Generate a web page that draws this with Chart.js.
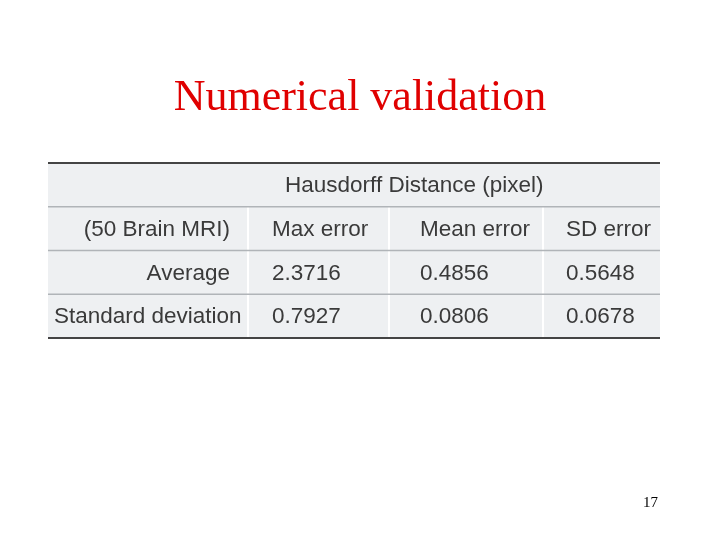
<!DOCTYPE html>
<html><head><meta charset="utf-8">
<script src="https://cdn.jsdelivr.net/npm/chart.js@4/dist/chart.umd.min.js"></script>
<style>
html,body{margin:0;padding:0;background:#fff;width:720px;height:540px;overflow:hidden}
#t{position:absolute;top:70px;left:0;width:720px;text-align:center;font-family:"Liberation Serif",serif;font-size:44px;color:#e00000}
#p{position:absolute;top:494px;left:643px;font-family:"Liberation Serif",serif;font-size:15px;color:#000}
#w{position:absolute;left:0;top:0;width:720px;height:540px}
</style></head><body>
<div id="w"><canvas id="c" width="720" height="540"></canvas></div>
<div id="t">Numerical validation</div>
<div id="p">17</div>
<script>
const header = "Hausdorff Distance (pixel)";
const columns = ["(50 Brain MRI)", "Max error", "Mean error", "SD error"];
const rowLabels = ["Average", "Standard deviation"];
const maxError = ["2.3716", "0.7927"];
const meanError = ["0.4856", "0.0806"];
const sdError = ["0.5648", "0.0678"];
const colEdges = [0, 200, 341, 495, 612];
const textInset = [0, 24, 31, 23];

const tablePlugin = {
  id: 'table',
  beforeDatasetsDraw(chart) {
    const ctx = chart.ctx, x = chart.scales.x, y = chart.scales.y;
    const X = v => x.getPixelForValue(v), Y = v => y.getPixelForValue(v);
    ctx.save();
    ctx.fillStyle = '#eef0f2';
    ctx.fillRect(X(0), Y(0), X(612) - X(0), Y(4) - Y(0));
    ctx.strokeStyle = '#ffffff'; ctx.lineWidth = 2;
    for (let i = 1; i < 4; i++) { ctx.beginPath(); ctx.moveTo(X(colEdges[i]), Y(1)); ctx.lineTo(X(colEdges[i]), Y(4)); ctx.stroke(); }
    ctx.strokeStyle = '#b0b4b8'; ctx.lineWidth = 1.5;
    for (let r = 1; r < 4; r++) { ctx.beginPath(); ctx.moveTo(X(0), Y(r)); ctx.lineTo(X(612), Y(r)); ctx.stroke(); }
    ctx.strokeStyle = '#444'; ctx.lineWidth = 2;
    [0, 4].forEach(r => { ctx.beginPath(); ctx.moveTo(X(0), Y(r)); ctx.lineTo(X(612), Y(r)); ctx.stroke(); });
    ctx.fillStyle = '#3a3a3a';
    ctx.font = '22.5px "Liberation Sans", Arial, sans-serif';
    ctx.textBaseline = 'middle';
    const mid = r => Y(r + 0.5) + 1;
    ctx.textAlign = 'left';
    ctx.fillText(header, X(237), mid(0));
    ctx.textAlign = 'right';
    ctx.fillText(columns[0], X(182), mid(1));
    ctx.fillText(rowLabels[0], X(182), mid(2));
    ctx.textAlign = 'left';
    ctx.fillText(rowLabels[1], X(6), mid(3));
    for (let i = 1; i < 4; i++) ctx.fillText(columns[i], X(colEdges[i] + textInset[i]), mid(1));
    [maxError, meanError, sdError].forEach((arr, i) => {
      arr.forEach((v, j) => ctx.fillText(v, X(colEdges[i + 1] + textInset[i + 1]), mid(2 + j)));
    });
    ctx.restore();
  }
};

new Chart(document.getElementById('c'), {
  type: 'scatter',
  data: { datasets: [{ data: [] }] },
  options: {
    responsive: false, animation: false,
    layout: { padding: { left: 48, right: 60, top: 163, bottom: 202 } },
    plugins: { legend: { display: false }, tooltip: { enabled: false } },
    scales: {
      x: { type: 'linear', min: 0, max: 612, display: false },
      y: { type: 'linear', min: 0, max: 4, reverse: true, display: false }
    }
  },
  plugins: [tablePlugin]
});
</script>
</body></html>
